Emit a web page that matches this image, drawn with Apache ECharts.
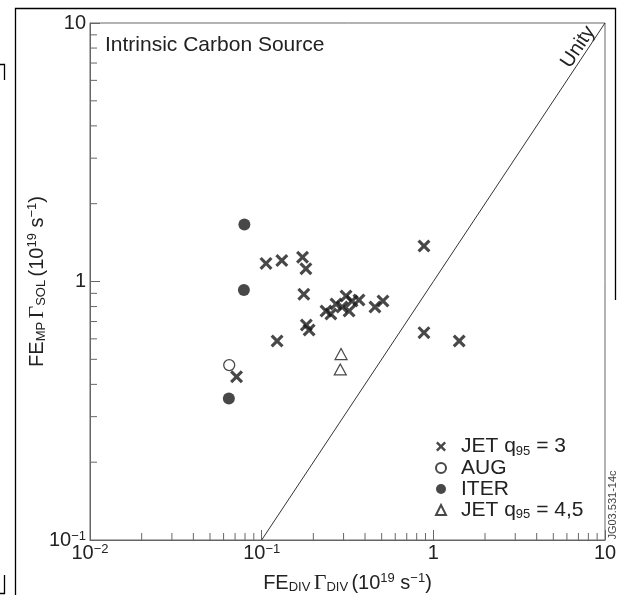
<!DOCTYPE html>
<html><head><meta charset="utf-8">
<script src="https://cdn.jsdelivr.net/npm/echarts@6/dist/echarts.min.js"></script>
<style>html,body{margin:0;padding:0;background:#fff}#c{width:623px;height:595px}</style>
</head><body><div id="c"></div>
<script>
// ---- data ----
const jetX = [0.0714, 0.123, 0.106, 0.131, 0.173, 0.181, 0.176, 0.182, 0.189, 0.237, 0.253, 0.271, 0.294, 0.310, 0.323, 0.336, 0.369, 0.457, 0.509, 0.882, 0.882, 1.415];
const jetY = [0.428, 0.589, 1.175, 1.205, 1.241, 1.12, 0.892, 0.679, 0.649, 0.769, 0.749, 0.818, 0.797, 0.879, 0.769, 0.840, 0.848, 0.797, 0.840, 1.371, 0.634, 0.589];
const augX = [0.0647];
const augY = [0.475];
const iterX = [0.0793, 0.0788, 0.0644];
const iterY = [1.66, 0.927, 0.353];
const jet45X = [0.290, 0.287];
const jet45Y = [0.524, 0.457];
const unityX = [0.1, 10];
const unityY = [0.1, 10];
const xMin = 0.01, xMax = 10, yMin = 0.1, yMax = 10;
const xMinorTicks = [0.02,0.03,0.04,0.05,0.06,0.07,0.08,0.09,0.2,0.3,0.4,0.5,0.6,0.7,0.8,0.9,2,3,4,5,6,7,8,9];
const yMinorTicks = [0.2,0.3,0.4,0.5,0.6,0.7,0.8,0.9,2,3,4,5,6,7,8,9];
const seriesNames = ['JET q95 = 3', 'AUG', 'ITER', 'JET q95 = 4,5'];
const legendLabels = {
  'JET q95 = 3': '{sp|}{t|JET q}{sub|95}{t| = 3}',
  'AUG': '{sp|}{t|AUG}',
  'ITER': '{sp|}{t|ITER}',
  'JET q95 = 4,5': '{sp|}{t|JET q}{sub|95}{t| = 4,5}'
};
const titleText = 'Intrinsic Carbon Source';
const unityText = 'Unity';
const codeText = 'JG03.531-14c';

const FONT = 'Liberation Sans';
const INK = '#1a1a1a';
const crossPath = 'path://M0,17 L17,0 L50,33 L83,0 L100,17 L67,50 L100,83 L83,100 L50,67 L17,100 L0,83 L33,50 Z';

function zip(a, b) { return a.map((v, i) => [v, b[i]]); }
function tickLabel(v) {
  const e = Math.round(Math.log10(v));
  if (e === 0) return '1';
  if (e === 1) return '10';
  return '10{sup|' + (e < 0 ? '\u2212' + (-e) : e) + '}';
}
const labelRich = {
  sup: { fontSize: 13, fontFamily: FONT, color: '#222', verticalAlign: 'top' }
};
const nameRich = {
  t: { fontSize: 20, fontFamily: FONT, color: '#222' },
  sub: { fontSize: 13, fontFamily: FONT, color: '#222', verticalAlign: 'bottom' },
  sup: { fontSize: 13, fontFamily: FONT, color: '#222', verticalAlign: 'top' },
  g: { fontSize: 22, fontFamily: 'Liberation Serif', color: '#222' }
};

const chart = echarts.init(document.getElementById('c'), null, { renderer: 'canvas' });
chart.setOption({
  animation: false,
  backgroundColor: '#fff',
  grid: { left: 90, top: 23, width: 515, height: 517, containLabel: false, outerBoundsMode: 'none',
          show: true, borderColor: '#666', borderWidth: 1, backgroundColor: 'transparent' },
  xAxis: {
    type: 'log', logBase: 10, min: xMin, max: xMax,
    axisLine: { show: true, lineStyle: { color: '#666', width: 1 } },
    axisTick: { show: true, inside: true, length: 10, lineStyle: { color: '#666' } },
    splitLine: { show: false },
    axisLabel: { fontSize: 20, fontFamily: FONT, color: '#222', margin: 3, formatter: tickLabel, rich: labelRich, showMinLabel: true, showMaxLabel: true },
    name: '{t|FE}{sub|DIV} {g|\u0393}{sub|DIV} {t|(10}{sup|19}{t| s}{sup|\u22121}{t|)}',
    nameLocation: 'middle', nameGap: 32, nameMoveOverlap: false,
    nameTextStyle: { rich: nameRich }
  },
  yAxis: {
    type: 'log', logBase: 10, min: yMin, max: yMax,
    axisLine: { show: true, lineStyle: { color: '#666', width: 1 } },
    axisTick: { show: true, inside: true, length: 10, lineStyle: { color: '#666' } },
    splitLine: { show: false },
    axisLabel: { fontSize: 20, fontFamily: FONT, color: '#222', margin: 4, formatter: tickLabel, rich: labelRich, showMinLabel: true, showMaxLabel: true },
    name: '{t|FE}{sub|MP} {g|\u0393}{sub|SOL} {t|(10}{sup|19}{t| s}{sup|\u22121}{t|)}',
    nameLocation: 'middle', nameGap: 42, nameMoveOverlap: false,
    nameTextStyle: { rich: nameRich }
  },
  legend: {
    orient: 'vertical', left: 435, top: 436, padding: 0,
    itemWidth: 10, itemHeight: 10, itemGap: 0,
    data: [
      { name: seriesNames[0], icon: crossPath },
      { name: seriesNames[1], icon: 'circle' },
      { name: seriesNames[2], icon: 'circle' },
      { name: seriesNames[3], icon: 'triangle' }
    ],
    formatter: n => legendLabels[n],
    textStyle: {
      rich: {
        sp: { width: 10, lineHeight: 22 },
        t: { fontSize: 21, fontFamily: FONT, color: '#222', lineHeight: 22 },
        sub: { fontSize: 13, fontFamily: FONT, color: '#222', verticalAlign: 'bottom', lineHeight: 22 }
      }
    },
    selectedMode: false
  },
  graphic: [
    { type: 'text', left: 105, top: 35, style: { text: titleText, font: '21px "Liberation Sans"', fill: '#222' } },
    { type: 'text', x: 578, y: 47, rotation: 56.4 * Math.PI / 180,
      style: { text: unityText, font: '20px "Liberation Sans"', fill: '#222', align: 'center', verticalAlign: 'middle' } },
    { type: 'text', x: 613, y: 505, rotation: Math.PI / 2,
      style: { text: codeText, font: '11px "Liberation Sans"', fill: '#444', align: 'center', verticalAlign: 'middle' } },
    { type: 'polyline', shape: { points: [[15.5, 600], [15.5, 8.5], [615.5, 8.5], [615.5, 300]] }, style: { stroke: '#000', lineWidth: 1.3, fill: null } },
    { type: 'polyline', shape: { points: [[0, 64.5], [4.5, 64.5], [4.5, 80]] }, style: { stroke: '#000', lineWidth: 1.3, fill: null } },
    { type: 'polyline', shape: { points: [[4.5, 575], [4.5, 593.5], [0, 593.5]] }, style: { stroke: '#000', lineWidth: 1.3, fill: null } }
  ],
  series: [
    {
      name: seriesNames[0], type: 'scatter', data: zip(jetX, jetY),
      symbol: crossPath, symbolSize: 13, itemStyle: { color: INK }, z: 5
    },
    {
      name: seriesNames[1], type: 'scatter', data: zip(augX, augY),
      symbol: 'circle', symbolSize: 11, itemStyle: { color: '#fff', borderColor: INK, borderWidth: 1.3 }, z: 4
    },
    {
      name: seriesNames[2], type: 'scatter', data: zip(iterX, iterY),
      symbol: 'circle', symbolSize: 12, itemStyle: { color: INK }, z: 5
    },
    {
      name: seriesNames[3], type: 'scatter', data: zip(jet45X, jet45Y),
      symbol: 'triangle', symbolSize: [12, 11], itemStyle: { color: '#fff', borderColor: INK, borderWidth: 1.2 }, z: 5
    },
    {
      name: 'unity', type: 'line', data: zip(unityX, unityY), symbol: 'none', silent: true,
      lineStyle: { color: '#333', width: 1 }, z: 2
    },
    {
      name: 'xminor', type: 'custom', coordinateSystem: 'cartesian2d', silent: true, z: 3,
      data: xMinorTicks.map(v => [v, yMin]),
      renderItem: (params, api) => {
        const p = api.coord([api.value(0), api.value(1)]);
        return { type: 'line', shape: { x1: p[0], y1: p[1], x2: p[0], y2: p[1] - 7 }, style: { stroke: '#666', lineWidth: 1 } };
      }
    },
    {
      name: 'yminor', type: 'custom', coordinateSystem: 'cartesian2d', silent: true, z: 3,
      data: yMinorTicks.map(v => [xMin, v]),
      renderItem: (params, api) => {
        const p = api.coord([api.value(0), api.value(1)]);
        return { type: 'line', shape: { x1: p[0], y1: p[1], x2: p[0] + 7, y2: p[1] }, style: { stroke: '#666', lineWidth: 1 } };
      }
    }
  ]
});
</script></body></html>
